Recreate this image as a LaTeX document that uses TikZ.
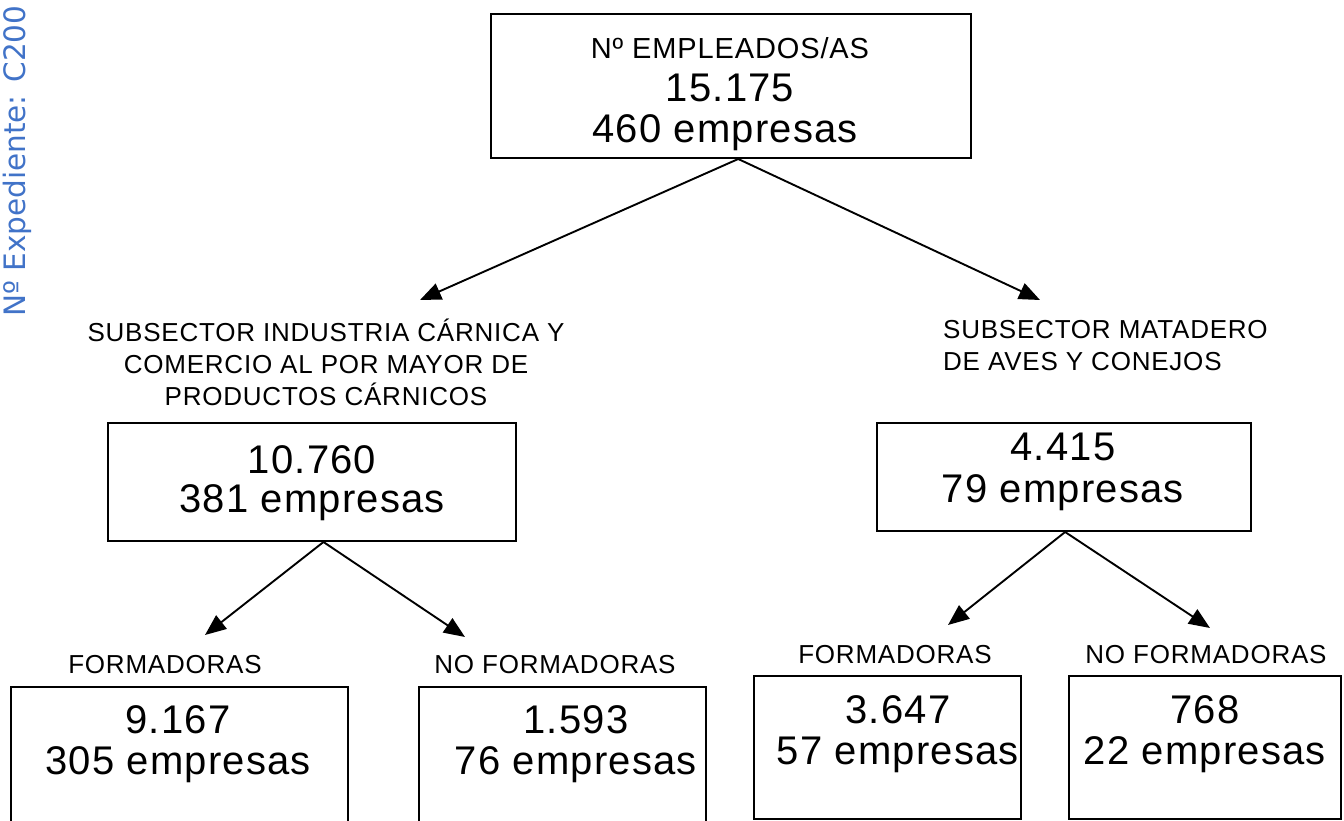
\documentclass[tikz,border=0pt]{standalone}
\usepackage{fontspec}
\setmainfont{Liberation Sans}[LetterSpace=3]
\newfontfamily\sidefont{DejaVu Sans}
\usetikzlibrary{arrows.meta,calc}
\definecolor{sideblue}{RGB}{65,115,200}
\begin{document}
\begin{tikzpicture}[x=1pt,y=-1pt,
  box/.style={draw, line width=2pt, inner sep=0pt, anchor=north west},
  num/.style={font=\fontsize{40}{44}\selectfont, inner sep=0pt},
  toplab/.style={font=\fontsize{29}{32}\selectfont, inner sep=0pt},
  lab/.style={font=\fontsize{26}{32}\selectfont, align=center, inner sep=0pt},
  arr/.style={line width=1.9pt, -{Triangle[length=21pt,width=17pt]}}]
\useasboundingbox (0,0) rectangle (1344,821);
\clip (0,0) rectangle (1344,821);
% side text
\node[rotate=90, anchor=west, text=sideblue, font=\sidefont\fontsize{29.5}{32}\selectfont, inner sep=0pt] (side) at (17,317) {Nº Expediente: C200};
% top box
\node[box, minimum width=480pt, minimum height=144pt] (top) at (490,13) {};
\node[toplab] (t1) at (730,48) {Nº EMPLEADOS/AS};
\node[num] (t2) at (730,88) {15.175};
\node[num] (t3) at (725,133) {460 empresas};
% subsector labels
\node[lab] (lsub) at (326,362) {SUBSECTOR INDUSTRIA CÁRNICA Y\\COMERCIO AL POR MAYOR DE\\PRODUCTOS CÁRNICOS};
\node[lab, align=left, anchor=west] (rsub) at (943,346) {SUBSECTOR MATADERO\\DE AVES Y CONEJOS};
% mid boxes
\node[box, minimum width=408pt, minimum height=118pt] (lmid) at (107,422) {};
\node[num] (l1) at (312,460) {10.760};
\node[num] (l2) at (312,503) {381 empresas};
\node[box, minimum width=374pt, minimum height=108pt] (rmid) at (876,422) {};
\node[num] (r1) at (1063,447) {4.415};
\node[num] (r2) at (1063,493) {79 empresas};
% bottom labels
\node[lab] (bl1) at (165,665) {FORMADORAS};
\node[lab] (bl2) at (555,665) {NO FORMADORAS};
\node[lab] (br1) at (895,655) {FORMADORAS};
\node[lab] (br2) at (1206,655) {NO FORMADORAS};
% bottom boxes
\node[box, minimum width=337pt, minimum height=150pt] (b1) at (10,686) {};
\node[num] (b1a) at (178,720) {9.167};
\node[num] (b1b) at (178,765) {305 empresas};
\node[box, minimum width=287pt, minimum height=150pt] (b2) at (418,686) {};
\node[num] (b2a) at (576,720) {1.593};
\node[num] (b2b) at (576,765) {76 empresas};
\node[box, minimum width=267pt, minimum height=143pt] (b3) at (753,675) {};
\node[num] (b3a) at (898,710) {3.647};
\node[num] (b3b) at (898,755) {57 empresas};
\node[box, minimum width=272pt, minimum height=143pt] (b4) at (1068,675) {};
\node[num] (b4a) at (1205,710) {768};
\node[num] (b4b) at (1205,755) {22 empresas};
% connectors
\coordinate (topA) at ($(top.south west)!0.515!(top.south east)$);
\coordinate (tipL) at (420,300);
\coordinate (tipR) at (1040,300);
\draw[arr] (topA) -- (tipL);
\draw[arr] (topA) -- (tipR);
\coordinate (lA) at ($(lmid.south west)!0.528!(lmid.south east)$);
\coordinate (tipLL) at (205,635);
\coordinate (tipLR) at (465,637);
\draw[arr] (lA) -- (tipLL);
\draw[arr] (lA) -- (tipLR);
\coordinate (rA) at ($(rmid.south west)!0.503!(rmid.south east)$);
\coordinate (tipRL) at (948,625);
\coordinate (tipRR) at (1210,628);
\draw[arr] (rA) -- (tipRL);
\draw[arr] (rA) -- (tipRR);
\end{tikzpicture}
\end{document}
